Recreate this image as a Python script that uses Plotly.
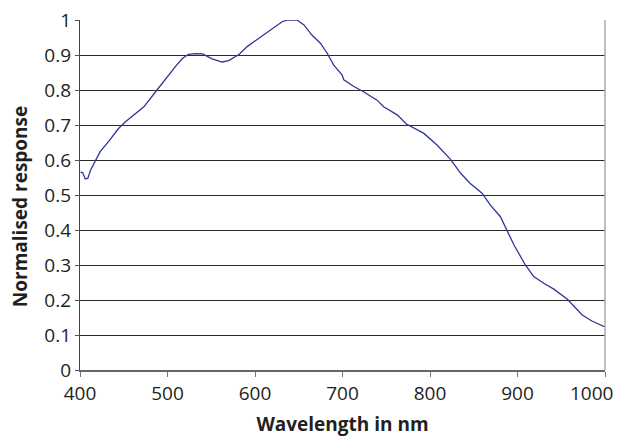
import plotly.graph_objects as go

wavelength = [400.6, 403, 406, 409, 412, 416, 418, 423, 433, 444, 452, 461.5, 473, 488, 498, 509, 517,
              524, 532, 540, 551, 562.5, 570, 582, 591, 600, 610, 621.5, 631, 637, 648, 656, 665, 675,
              682.5, 690, 699.5, 701.5, 713, 724, 739.5, 747, 762.5, 773, 789, 793, 808, 823.5, 835,
              846, 859.5, 869, 880.5, 888, 896, 909, 918.5, 930, 941.5, 957, 974, 985, 1000]
response = [0.565, 0.564, 0.546, 0.548, 0.571, 0.590, 0.603, 0.624, 0.654, 0.690, 0.709, 0.729, 0.752,
            0.800, 0.833, 0.867, 0.890, 0.902, 0.904, 0.903, 0.889, 0.880, 0.884, 0.902, 0.924, 0.940,
            0.957, 0.979, 0.995, 1.000, 1.000, 0.986, 0.957, 0.933, 0.905, 0.871, 0.843, 0.829, 0.810,
            0.795, 0.771, 0.752, 0.729, 0.703, 0.681, 0.676, 0.643, 0.602, 0.562, 0.533, 0.505, 0.471,
            0.438, 0.400, 0.357, 0.300, 0.267, 0.248, 0.231, 0.202, 0.157, 0.140, 0.123]

x_ticks = [400, 500, 600, 700, 800, 900, 1000]
x_tick_labels = ["400", "500", "600", "700", "800", "900", ""]
last_x_label = "1000"
y_ticks = [0, 0.1, 0.2, 0.3, 0.4, 0.5, 0.6, 0.7, 0.8, 0.9, 1]
y_tick_labels = ["0", "0.1", "0.2", "0.3", "0.4", "0.5", "0.6", "0.7", "0.8", "0.9", "1"]

fig = go.Figure()
fig.add_trace(go.Scatter(x=wavelength, y=response, mode="lines",
                         line=dict(color="#30349a", width=1.3), hoverinfo="skip"))

fig.update_layout(
    width=625, height=437,
    margin=dict(l=80, r=20, t=20, b=67),
    paper_bgcolor="white", plot_bgcolor="white",
    showlegend=False,
    font=dict(family="Open Sans", color="#231f20"),
    xaxis=dict(range=[400, 1000], tickvals=x_ticks, ticktext=x_tick_labels, ticks="outside", ticklen=5,
               tickcolor="#777", showline=True, linecolor="#666", linewidth=1.5,
               showgrid=False, zeroline=False, tickfont=dict(size=19), automargin=False,
               ticklabeloverflow="allow",
               title=dict(text="<b>Wavelength in nm</b>", font=dict(size=19), standoff=13)),
    yaxis=dict(range=[0, 1], tickvals=y_ticks, ticktext=y_tick_labels, ticks="outside",
               ticklen=4, tickcolor="#555", showline=True, linecolor="#444", linewidth=1.3,
               showgrid=True, gridcolor="#2a2a2a", gridwidth=1, zeroline=False,
               tickfont=dict(size=19), automargin=False, ticklabeloverflow="allow"),
    shapes=[dict(type="line", xref="paper", yref="paper", x0=1, x1=1, y0=0, y1=1,
                 line=dict(color="#aaa", width=1.5))],
    annotations=[
        dict(text="<b>Normalised response</b>", textangle=-90, xref="paper", yref="paper",
             x=-0.115, y=0.467, xanchor="center", yanchor="middle", showarrow=False,
             font=dict(size=19)),
        dict(text=last_x_label, xref="x", yref="paper", x=x_ticks[-1], y=0,
             xanchor="right", yanchor="top", xshift=10, yshift=-8, showarrow=False,
             font=dict(size=19)),
    ],
)

fig.write_html("out.html", config={"displayModeBar": False},
               post_script="document.body.style.margin='0';document.body.style.overflow='hidden';")
